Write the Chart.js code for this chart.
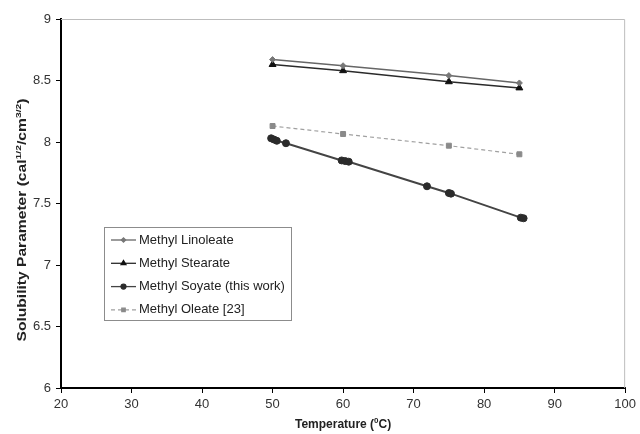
<!DOCTYPE html>
<html>
<head>
<meta charset="utf-8">
<script src="https://cdn.jsdelivr.net/npm/chart.js@4.4.1/dist/chart.umd.min.js"></script>
<style>
  html, body { margin: 0; padding: 0; background: #fff; }
  #wrap { width: 640px; height: 434px; }
</style>
</head>
<body>
<div id="wrap"><canvas id="solChart" width="640" height="434"></canvas></div>
<script>
// Valores
const temps = [50, 60, 75, 85];
const linoleate = [8.67, 8.62, 8.54, 8.48];
const stearate = [8.63, 8.58, 8.49, 8.44];
const oleate = [8.13, 8.065, 7.97, 7.90];

const soyateTemps = [49.8, 50.2, 50.6, 51.9, 59.8, 60.3, 60.8, 71.9, 75.0, 75.3, 85.2, 85.6];
const soyate = [8.03, 8.02, 8.01, 7.99, 7.85, 7.845, 7.84, 7.64, 7.585, 7.58, 7.385, 7.38];

const xTicks = [20, 30, 40, 50, 60, 70, 80, 90, 100];
const yTicks = [6, 6.5, 7, 7.5, 8, 8.5, 9];

const toPoints = (xs, ys) => xs.map((x, i) => ({ x: x, y: ys[i] }));

const series = [
    { label: 'Methyl Linoleate', data: toPoints(temps, linoleate), color: '#666', point: 'rectRot', r: 3, width: 1.5, dash: [], pointColor: '#777' },
    { label: 'Methyl Stearate', data: toPoints(temps, stearate), color: '#2a2a2a', point: 'triangle', r: 4, width: 1.5, dash: [], pointColor: '#111' },
    { label: 'Methyl Soyate (this work)', data: toPoints(soyateTemps, soyate), color: '#444', point: 'circle', r: 3.5, width: 2, dash: [], pointColor: '#2b2b2b' },
    { label: 'Methyl Oleate [23]', data: toPoints(temps, oleate), color: '#a0a0a0', point: 'rect', r: 3.5, width: 1.2, dash: [4, 3], pointColor: '#8a8a8a' }
];

// Títulos com expoentes + borda + legenda desenhados à mão
const extras = {
    id: 'extras',
    afterDraw(chart) {
        const ctx = chart.ctx;
        const a = chart.chartArea;

        // borda cinza (topo e direita)
        ctx.save();
        ctx.strokeStyle = '#bdbdbd';
        ctx.lineWidth = 1;
        ctx.beginPath();
        ctx.moveTo(a.left, a.top + 0.5);
        ctx.lineTo(a.right - 0.5, a.top + 0.5);
        ctx.lineTo(a.right - 0.5, a.bottom);
        ctx.stroke();
        ctx.restore();

        const rich = (parts, cx, cy) => {
            const base = 'bold 12px "Liberation Sans", Arial, sans-serif';
            const sup = 'bold 8px "Liberation Sans", Arial, sans-serif';
            let total = 0;
            parts.forEach(p => { ctx.font = p[1] ? sup : base; total += ctx.measureText(p[0]).width; });
            let x = cx - total / 2;
            ctx.textBaseline = 'middle';
            ctx.textAlign = 'left';
            ctx.fillStyle = '#222';
            parts.forEach(p => {
                ctx.font = p[1] ? sup : base;
                ctx.fillText(p[0], x, p[1] ? cy - 4 : cy);
                x += ctx.measureText(p[0]).width;
            });
        };

        ctx.save();
        rich([['Temperature (', false], ['0', true], ['C)', false]], (a.left + a.right) / 2, 425);
        ctx.restore();

        // título do eixo y (esticado no sentido do texto, como no original)
        ctx.save();
        ctx.translate(23, 220);
        ctx.rotate(-Math.PI / 2);
        ctx.scale(1.3, 1);
        rich([['Solubility Parameter (cal', false], ['1/2', true], ['/cm', false], ['3/2', true], [')', false]], 0, 0);
        ctx.restore();

        // legenda
        const box = { x: 104, y: 227, w: 187, h: 93 };
        ctx.save();
        ctx.fillStyle = '#fff';
        ctx.fillRect(box.x, box.y, box.w, box.h);
        ctx.strokeStyle = '#8c8c8c';
        ctx.lineWidth = 1;
        ctx.strokeRect(box.x + 0.5, box.y + 0.5, box.w, box.h);
        ctx.font = '13px "Liberation Sans", Arial, sans-serif';
        ctx.textBaseline = 'middle';
        series.forEach((s, i) => {
            const y = 240 + i * 23.3;
            ctx.strokeStyle = s.color;
            ctx.lineWidth = Math.min(s.width, 1.3);
            ctx.setLineDash(s.dash);
            ctx.beginPath();
            ctx.moveTo(111, y);
            ctx.lineTo(136, y);
            ctx.stroke();
            ctx.setLineDash([]);
            ctx.fillStyle = s.pointColor;
            ctx.strokeStyle = s.pointColor;
            if (Chart.helpers && Chart.helpers.drawPoint) {
                Chart.helpers.drawPoint(ctx, { pointStyle: s.point, radius: s.r * 0.7, borderWidth: 1, rotation: 0 }, 123.5, y);
            } else {
                ctx.beginPath(); ctx.arc(123.5, y, 2.5, 0, Math.PI * 2); ctx.fill();
            }
            ctx.fillStyle = '#222';
            ctx.fillText(s.label, 139, y);
        });
        ctx.restore();
    }
};

const tickFont = { size: 13, family: '"Liberation Sans", Arial, sans-serif' };

new Chart(document.getElementById('solChart').getContext('2d'), {
    type: 'scatter',
    data: {
        datasets: series.map(s => ({
            label: s.label,
            data: s.data,
            showLine: true,
            borderColor: s.color,
            borderWidth: s.width,
            borderDash: s.dash,
            pointStyle: s.point,
            pointRadius: s.r,
            pointBackgroundColor: s.pointColor,
            pointBorderColor: s.pointColor,
            pointBorderWidth: 1,
            tension: 0
        }))
    },
    options: {
        responsive: false,
        animation: false,
        layout: { padding: { top: 19, right: 11, left: 0, bottom: 0 } },
        plugins: { legend: { display: false }, tooltip: { enabled: false } },
        scales: {
            x: {
                type: 'linear',
                min: 20, max: 100,
                afterBuildTicks: (scale) => { scale.ticks = xTicks.map(v => ({ value: v })); },
                afterFit: (scale) => { scale.height = 46; },
                grid: { drawOnChartArea: false, color: '#000', tickLength: 5 },
                border: { color: '#000', width: 2 },
                ticks: { color: '#333', font: tickFont, padding: 4, maxRotation: 0, callback: (v) => String(v) }
            },
            y: {
                min: 6, max: 9,
                afterBuildTicks: (scale) => { scale.ticks = yTicks.map(v => ({ value: v })); },
                afterFit: (scale) => { scale.width = 61; },
                grid: { drawOnChartArea: false, color: '#000', tickLength: 5 },
                border: { color: '#000', width: 2 },
                ticks: { color: '#333', font: tickFont, padding: 5, callback: (v) => String(v) }
            }
        }
    },
    plugins: [extras]
});
</script>
</body>
</html>
